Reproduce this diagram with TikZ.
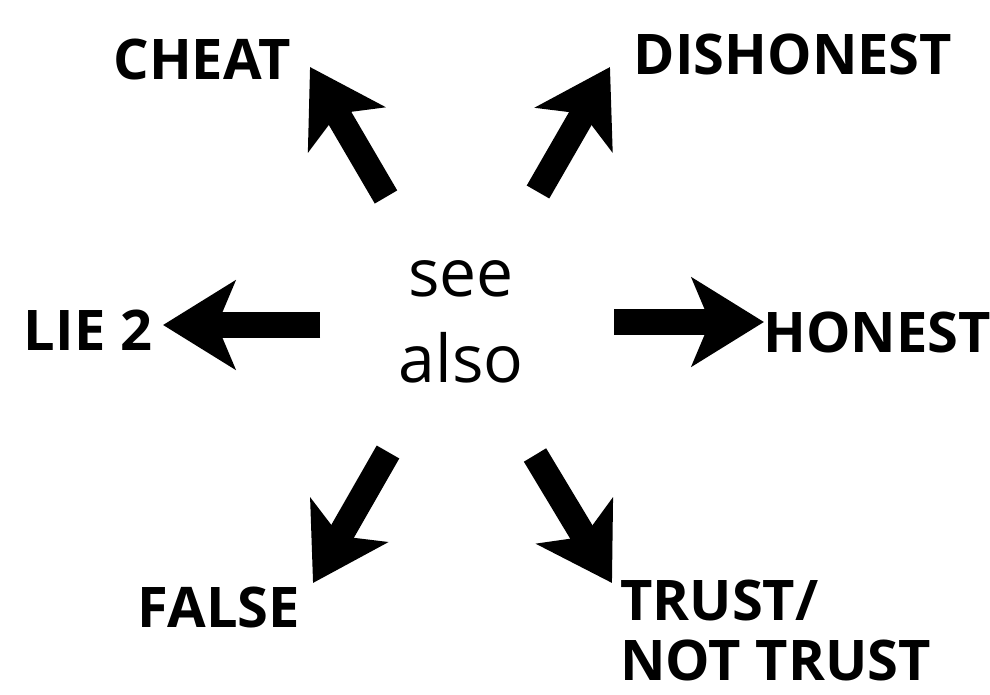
\documentclass[tikz,border=0pt]{standalone}
\usepackage{fontspec}
\setmainfont{Open Sans}
\usetikzlibrary{arrows.meta}

\begin{document}
\begin{tikzpicture}[x=0.5pt,y=-0.5pt,
    word/.style={font=\bfseries\fontsize{28}{30}\selectfont, inner sep=0pt},
    fat/.style={line width=13pt, -{Stealth[length=36pt,width=44pt,inset=9pt]}}]
  \useasboundingbox (0,0) rectangle (990,695);
  % centre
  \node[font=\fontsize{33}{43}\selectfont, align=center, inner sep=0pt] (see) at (461,322) {see\\also};
  % words round it
  \node[word, anchor=base] (cheat) at (202,80) {CHEAT};
  \node[word, anchor=base] (dish) at (793,75) {DISHONEST};
  \node[word, anchor=base] (lie) at (88,350) {LIE 2};
  \node[word, anchor=base] (honest) at (877,352) {HONEST};
  \node[word, anchor=base] (false) at (219,627) {FALSE};
  \node[word, anchor=base west, align=left] (trust) at (620,680) {TRUST/\\NOT TRUST};
  % arrow ends
  \coordinate (c1) at (386,197); \coordinate (c2) at (310,67);
  \coordinate (d1) at (538,192); \coordinate (d2) at (610,67);
  \coordinate (l1) at (320,325); \coordinate (l2) at (163,325);
  \coordinate (h1) at (614,322); \coordinate (h2) at (764,322);
  \coordinate (f1) at (388,452); \coordinate (f2) at (313,583);
  \coordinate (t1) at (535,455); \coordinate (t2) at (612,583);
  \draw[fat] (c1) -- (c2); \draw[fat] (d1) -- (d2);
  \draw[fat] (l1) -- (l2); \draw[fat] (h1) -- (h2);
  \draw[fat] (f1) -- (f2); \draw[fat] (t1) -- (t2);
\end{tikzpicture}
\end{document}
